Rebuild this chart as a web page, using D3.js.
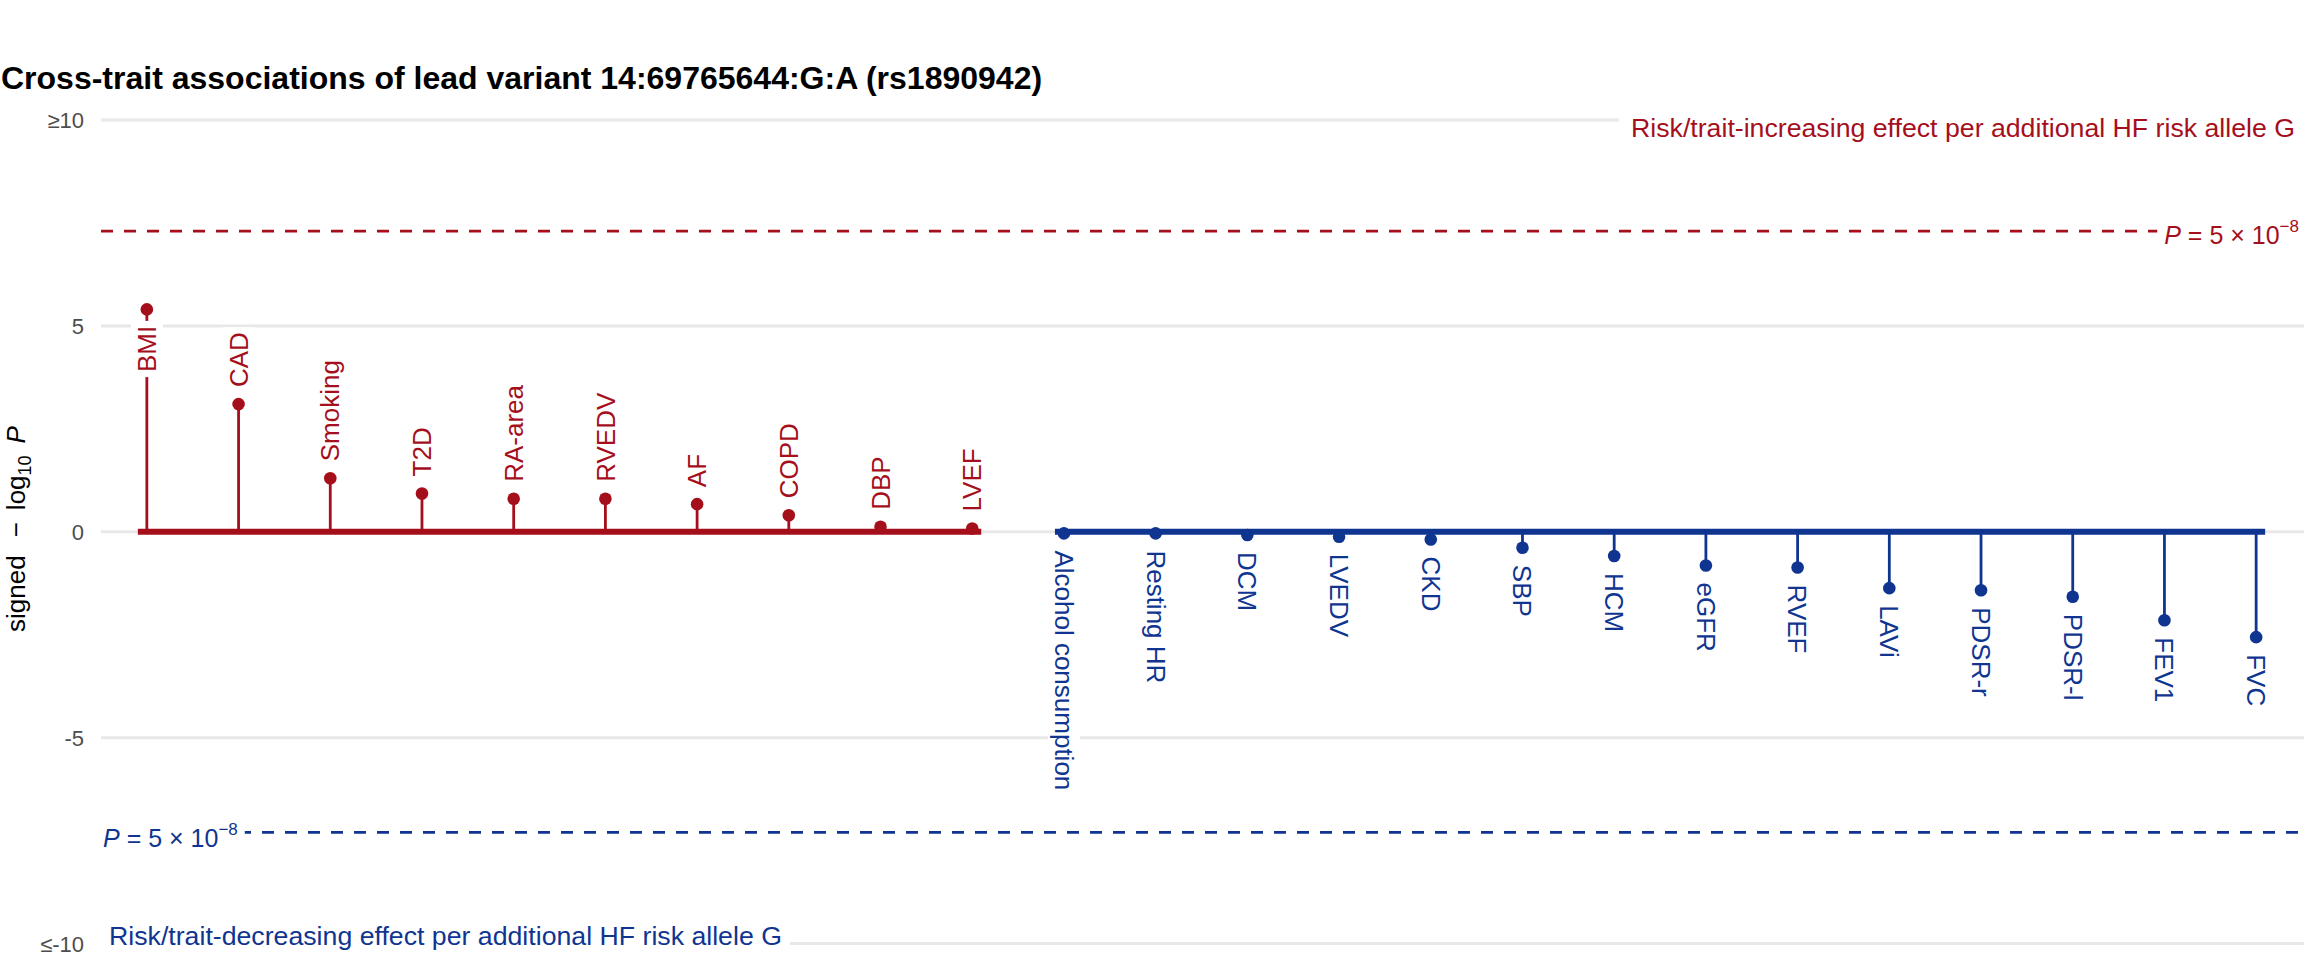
<!DOCTYPE html>
<html>
<head>
<meta charset="utf-8">
<script src="https://cdn.jsdelivr.net/npm/d3@7"></script>
<style>
  html, body { margin: 0; padding: 0; background: #ffffff; }
  svg { display: block; }
  text { font-family: "Liberation Sans", Arial, Helvetica, sans-serif; }
</style>
</head>
<body>
<svg id="chart" width="2304" height="960"></svg>
<script>
// ---------------- data ----------------
const traits = ["BMI","CAD","Smoking","T2D","RA-area","RVEDV","AF","COPD","DBP","LVEF",
  "Alcohol consumption","Resting HR","DCM","LVEDV","CKD","SBP","HCM","eGFR","RVEF","LAVi",
  "PDSR-r","PDSR-l","FEV1","FVC"];
const signedLogP = [5.40,3.10,1.30,0.93,0.80,0.80,0.67,0.40,0.12,0.08,
  -0.04,-0.04,-0.08,-0.12,-0.19,-0.39,-0.59,-0.82,-0.87,-1.37,
  -1.42,-1.58,-2.15,-2.56];
const yTickValues = [10, 5, 0, -5, -10];
const yTickLabels = ["\u226510", "5", "0", "-5", "\u2264-10"];
const gwsThreshold = -Math.log10(5e-8);
const titleText = "Cross-trait associations of lead variant 14:69765644:G:A (rs1890942)";
const upText = "Risk/trait-increasing effect per additional HF risk allele G";
const downText = "Risk/trait-decreasing effect per additional HF risk allele G";

// ---------------- styles ----------------
const RED = "#a50f1c";
const BLUE = "#0f3591";
const GRID = "#e8e8e8";

const svg = d3.select("#chart");
const panel = { left: 101, right: 2304, top: 120, bottom: 943.5 };

const x = d3.scalePoint().domain(traits).range([101, 2302]).padding(0.5);
const y = d3.scaleLinear().domain([-10, 10]).range([panel.bottom, panel.top]);

const data = traits.map((t, i) => ({ trait: t, v: signedLogP[i] }));
const colorOf = v => v >= 0 ? RED : BLUE;

// grid lines (y)
svg.append("g").selectAll("line").data(yTickValues).join("line")
  .attr("x1", panel.left).attr("x2", panel.right)
  .attr("y1", d => y(d)).attr("y2", d => y(d))
  .attr("stroke", GRID).attr("stroke-width", 3);

// y axis tick labels via d3 axis
const yAxis = d3.axisLeft(y).tickValues(yTickValues)
  .tickFormat((d, i) => yTickLabels[i]).tickSize(0).tickPadding(0);
const yAxisG = svg.append("g").attr("transform", "translate(84,0)").call(yAxis);
yAxisG.select(".domain").remove();
yAxisG.selectAll("text")
  .attr("font-size", 22).attr("fill", "#4d4d4d")
  .attr("font-family", "Liberation Sans, Arial, sans-serif")
  .attr("dy", "0.35em").attr("x", 0);

// threshold dashed lines
[[gwsThreshold, RED], [-gwsThreshold, BLUE]].forEach(([v, c]) => {
  svg.append("line")
    .attr("x1", panel.left).attr("x2", 2298)
    .attr("y1", y(v)).attr("y2", y(v))
    .attr("stroke", c).attr("stroke-width", 2.7)
    .attr("stroke-dasharray", "12,11");
});

// baselines per group
const pos = data.filter(d => d.v >= 0), neg = data.filter(d => d.v < 0);
[[pos, RED], [neg, BLUE]].forEach(([grp, c]) => {
  svg.append("line")
    .attr("x1", x(grp[0].trait) - 9).attr("x2", x(grp[grp.length - 1].trait) + 9)
    .attr("y1", y(0)).attr("y2", y(0))
    .attr("stroke", c).attr("stroke-width", 6);
});

// stems
svg.append("g").selectAll("line").data(data).join("line")
  .attr("x1", d => x(d.trait)).attr("x2", d => x(d.trait))
  .attr("y1", y(0)).attr("y2", d => y(d.v))
  .attr("stroke", d => colorOf(d.v)).attr("stroke-width", 2.8);

// dots
svg.append("g").selectAll("circle").data(data).join("circle")
  .attr("cx", d => x(d.trait)).attr("cy", d => y(d.v))
  .attr("r", 6.3).attr("fill", d => colorOf(d.v));

// helper: add white box behind a text node
function addBox(g, textNode, padX, padY) {
  const bb = textNode.getBBox();
  g.insert("rect", "text")
    .attr("x", bb.x - padX).attr("y", bb.y - padY)
    .attr("width", bb.width + 2 * padX).attr("height", bb.height + 2 * padY)
    .attr("fill", "#ffffff");
}

// trait labels
const LABEL_FS = 26, GAP = 17;
data.forEach(d => {
  const g = svg.append("g");
  const t = g.append("text").text(d.trait)
    .attr("font-size", LABEL_FS).attr("fill", colorOf(d.v))
    .attr("dy", "0.35em").attr("text-anchor", "start");
  const len = t.node().getComputedTextLength();
  let start;
  if (d.v >= 0) {
    start = y(d.v) - GAP;
    if (start - len < y(5)) start = y(5) + len;
    g.attr("transform", `translate(${x(d.trait)},${start}) rotate(-90)`);
  } else {
    start = y(d.v) + GAP;
    g.attr("transform", `translate(${x(d.trait)},${start}) rotate(90)`);
  }
  addBox(g, t.node(), 5, 1);
});

// annotation labels
function annot(txt, xPos, yBase, anchor, color, padX, padY) {
  const g = svg.append("g");
  const t = g.append("text").text(txt)
    .attr("x", xPos).attr("y", yBase)
    .attr("text-anchor", anchor).attr("font-size", 26.7).attr("fill", color);
  addBox(g, t.node(), padX, padY);
}
annot(upText, 2295, 137, "end", RED, 12, 4);
annot(downText, 109, 945, "start", BLUE, 8, 4);

// P = 5 x 10^-8 labels
function pLabel(xPos, yBase, anchor, color) {
  const g = svg.append("g");
  const t = g.append("text").attr("x", xPos).attr("y", yBase)
    .attr("text-anchor", anchor).attr("font-size", 25).attr("fill", color);
  t.append("tspan").attr("font-style", "italic").text("P");
  t.append("tspan").text(" = 5 \u00d7 10");
  t.append("tspan").attr("font-size", 17).attr("dy", -12).text("\u22128");
  addBox(g, t.node(), 7, 2);
}
pLabel(2299, 244, "end", RED);
pLabel(103, 847, "start", BLUE);

// title
svg.append("text").text(titleText)
  .attr("x", 1).attr("y", 89)
  .attr("font-size", 32).attr("font-weight", "bold").attr("fill", "#000000");

// y-axis title
const yt = svg.append("text")
  .attr("transform", "translate(25,529) rotate(-90)")
  .attr("text-anchor", "middle").attr("font-size", 26).attr("fill", "#000000");
yt.append("tspan").text("signed");
yt.append("tspan").attr("dx", 18).text("\u2212");
yt.append("tspan").attr("dx", 12).text("log");
yt.append("tspan").attr("font-size", 18).attr("dy", 6).text("10");
yt.append("tspan").attr("dy", -6).attr("dx", 12).attr("font-style", "italic").text("P");
</script>
</body>
</html>
